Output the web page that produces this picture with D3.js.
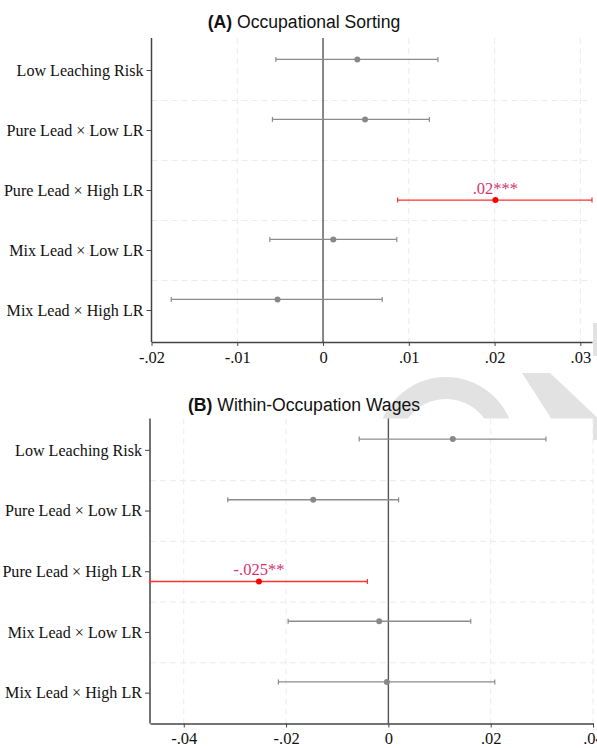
<!DOCTYPE html>
<html>
<head>
<meta charset="utf-8">
<script src="https://cdn.jsdelivr.net/npm/d3@7"></script>
<style>
  body { margin: 0; background: #fff; }
  svg { display: block; }
</style>
</head>
<body>
<svg id="Chart" width="597" height="748"></svg>
<script>
// row labels (same in both panels)
var rows = ["Low Leaching Risk", "Pure Lead × Low LR", "Pure Lead × High LR", "Mix Lead × Low LR", "Mix Lead × High LR"];

// panel A: occupational sorting
var estA = [0.0040, 0.0049, 0.0201, 0.0012, -0.0053];
var lowA = [-0.0055, -0.0059, 0.0087, -0.0062, -0.0177];
var highA = [0.0134, 0.0124, 0.0314, 0.0086, 0.0069];
var sigA = [false, false, true, false, false];
var noteA = ["", "", ".02***", "", ""];
var ticksA = [-0.02, -0.01, 0, 0.01, 0.02, 0.03];
var tickLabelsA = ["-.02", "-.01", "0", ".01", ".02", ".03"];

// panel B: within-occupation wages
var estB = [0.0126, -0.0147, -0.0253, -0.0018, -0.0003];
var lowB = [-0.0057, -0.0314, -0.0466, -0.0196, -0.0215];
var highB = [0.0308, 0.0020, -0.0041, 0.0161, 0.0208];
var sigB = [false, false, true, false, false];
var noteB = ["", "", "-.025**", "", ""];
var ticksB = [-0.04, -0.02, 0, 0.02, 0.04];
var tickLabelsB = ["-.04", "-.02", "0", ".02", ".04"];

var svg = d3.select("#Chart");
var serif = "'Liberation Serif', 'Times New Roman', serif";
var sans = "'Liberation Sans', Arial, Helvetica, sans-serif";

drawWatermark();

drawPanel({
  bold: "(A)", title: " Occupational Sorting", titleY: 28,
  top: 38, bottom: 342, left: 151.5, right: 592,
  bandTop: 40.5, bandBottom: 340.5,
  domain: [-0.02, 0.03136],
  est: estA, low: lowA, high: highA, sig: sigA, note: noteA,
  ticks: ticksA, tickLabels: tickLabelsA
});

drawPanel({
  bold: "(B)", title: " Within-Occupation Wages", titleY: 410.5,
  top: 418.5, bottom: 723.5, left: 150, right: 593,
  bandTop: 420, bandBottom: 723.5,
  domain: [-0.0466, 0.04],
  est: estB, low: lowB, high: highB, sig: sigB, note: noteB,
  ticks: ticksB, tickLabels: tickLabelsB
});

function drawWatermark() {
  let g = svg.append("g").attr("fill", "#e2e2e2");
  // arch
  let arc = d3.arc().innerRadius(47).outerRadius(69)
              .startAngle(-Math.PI / 2).endAngle(Math.PI / 2);
  g.append("path").attr("transform", "translate(446,446)").attr("d", arc());
  // diagonal band
  g.append("path").attr("d", "M522,373 L550,373 L600,420 L600,440 L565,440 Z");
  // small strip at right edge
  g.append("rect").attr("x", 593).attr("y", 323).attr("width", 4).attr("height", 33);
}

function drawPanel(p) {
  let g = svg.append("g");

  let x = d3.scaleLinear().domain(p.domain).range([p.left, p.right]);
  let y = d3.scaleBand().domain(rows).range([p.bandTop, p.bandBottom]);
  let step = y.step();

  // plot area covers the watermark
  g.append("rect")
   .attr("x", p.left).attr("y", p.top)
   .attr("width", p.right - p.left).attr("height", p.bottom - p.top)
   .attr("fill", "#fff");

  // title
  let t = g.append("text")
           .attr("x", 304).attr("y", p.titleY)
           .attr("text-anchor", "middle")
           .style("font-family", sans).style("font-size", "17.6px")
           .attr("fill", "#111");
  t.append("tspan").style("font-weight", "bold").text(p.bold);
  t.append("tspan").text(p.title);

  // dashed grid
  let dash = "6,4";
  g.append("g").selectAll("line")
   .data(rows.slice(1))
   .enter().append("line")
   .attr("x1", p.left).attr("x2", p.right)
   .attr("y1", d => y(d)).attr("y2", d => y(d))
   .attr("stroke", "#ebebeb").attr("stroke-dasharray", dash);
  g.append("g").selectAll("line")
   .data(p.ticks.filter(d => d !== 0 && x(d) > p.left + 2))
   .enter().append("line")
   .attr("x1", d => x(d)).attr("x2", d => x(d))
   .attr("y1", p.top).attr("y2", p.bottom)
   .attr("stroke", "#ebebeb").attr("stroke-dasharray", dash);

  // zero line
  g.append("line")
   .attr("x1", x(0)).attr("x2", x(0))
   .attr("y1", p.top).attr("y2", p.bottom)
   .attr("stroke", "#555").attr("stroke-width", 1.4);

  // x axis
  let xAxis = d3.axisBottom(x)
                .tickValues(p.ticks)
                .tickFormat((d, i) => p.tickLabels[i])
                .tickSize(4).tickSizeOuter(0).tickPadding(5);
  g.append("g")
   .attr("transform", `translate(0,${p.bottom})`)
   .call(xAxis)
   .call(a => a.select(".domain").attr("stroke", "#444").attr("stroke-width", 1.5))
   .call(a => a.selectAll(".tick line").attr("stroke", "#444"))
   .call(a => a.selectAll(".tick text")
               .attr("fill", "#111")
               .style("font-family", serif).style("font-size", "16.5px"));

  // y axis
  let yAxis = d3.axisLeft(y).tickSize(5).tickSizeOuter(0).tickPadding(3);
  g.append("g")
   .attr("transform", `translate(${p.left},0)`)
   .call(yAxis)
   .call(a => a.select(".domain").attr("d", `M0,${p.top}V${p.bottom}`)
               .attr("stroke", "#444").attr("stroke-width", 1.5))
   .call(a => a.selectAll(".tick line").attr("stroke", "#444"))
   .call(a => a.selectAll(".tick text")
               .attr("fill", "#111")
               .style("font-family", serif).style("font-size", "16.1px"));

  // coefficient rows: significant series drawn slightly below, others above
  let data = rows.map((r, i) => ({
    row: r, est: p.est[i], low: Math.max(p.low[i], p.domain[0]),
    high: Math.min(p.high[i], p.domain[1]), sig: p.sig[i], note: p.note[i]
  }));
  let cy = d => y(d.row) + step / 2 + (d.sig ? 0.16 : -0.185) * step;
  let lineColor = d => d.sig ? "#ff3030" : "#8c8c8c";

  let bars = g.append("g").selectAll("g")
              .data(data)
              .enter().append("g");
  bars.append("line")
      .attr("x1", d => x(d.low)).attr("x2", d => x(d.high))
      .attr("y1", cy).attr("y2", cy)
      .attr("stroke", lineColor).attr("stroke-width", 1.4);
  bars.append("line")
      .attr("x1", d => x(d.low)).attr("x2", d => x(d.low))
      .attr("y1", d => cy(d) - 2.5).attr("y2", d => cy(d) + 2.5)
      .attr("stroke", lineColor).attr("stroke-width", 1.2);
  bars.append("line")
      .attr("x1", d => x(d.high)).attr("x2", d => x(d.high))
      .attr("y1", d => cy(d) - 2.5).attr("y2", d => cy(d) + 2.5)
      .attr("stroke", lineColor).attr("stroke-width", 1.2);
  bars.append("circle")
      .attr("cx", d => x(d.est)).attr("cy", cy)
      .attr("r", 3)
      .attr("fill", d => d.sig ? "#ff0000" : "#888");
  bars.filter(d => d.note)
      .append("text")
      .attr("x", d => x(d.est)).attr("y", d => cy(d) - 6.5)
      .attr("text-anchor", "middle")
      .style("font-family", serif).style("font-size", "16.5px")
      .attr("fill", "#d6336c")
      .text(d => d.note);
}
</script>
</body>
</html>
